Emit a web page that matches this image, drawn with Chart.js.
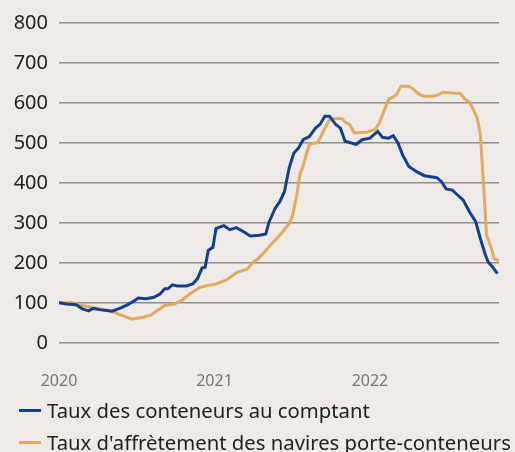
<!DOCTYPE html>
<html>
<head>
<meta charset="utf-8">
<script src="https://cdn.jsdelivr.net/npm/chart.js@4"></script>
<style>
  body { margin: 0; background: #eeeae7; }
  #wrap { position: relative; width: 515px; height: 452px; overflow: hidden; }
  #diagram { position: absolute; left: 0; top: 0; }
  #legend { position: absolute; left: 19px; top: 394px; font-family: "Noto Sans", sans-serif; font-size: 20.3px; color: #222; white-space: nowrap; }
  #legend .item { height: 32px; line-height: 32px; display: flex; align-items: center; }
  #legend .mark { display: inline-block; width: 22px; height: 3px; margin-right: 6px; }
</style>
</head>
<body>
<div id="wrap">
  <canvas id="diagram" width="515" height="417"></canvas>
  <div id="legend"></div>
</div>
<script>
// dates as decimal years, values indexed (Jan 2020 = 100)
const spotDates = [2020.00, 2020.05, 2020.11, 2020.15, 2020.19, 2020.22, 2020.26, 2020.34, 2020.39, 2020.44,
    2020.48, 2020.51, 2020.56, 2020.61, 2020.65, 2020.68, 2020.70, 2020.73, 2020.76, 2020.82,
    2020.86, 2020.89, 2020.92, 2020.94, 2020.96, 2020.99, 2021.01, 2021.06, 2021.10, 2021.14,
    2021.19, 2021.23, 2021.29, 2021.33, 2021.35, 2021.39, 2021.42, 2021.45, 2021.48, 2021.51,
    2021.54, 2021.57, 2021.61, 2021.65, 2021.68, 2021.71, 2021.74, 2021.78, 2021.81, 2021.84,
    2021.88, 2021.91, 2021.95, 2022.00, 2022.05, 2022.08, 2022.12, 2022.15, 2022.18, 2022.21,
    2022.25, 2022.30, 2022.35, 2022.43, 2022.46, 2022.49, 2022.53, 2022.56, 2022.60, 2022.64,
    2022.68, 2022.71, 2022.74, 2022.76, 2022.79, 2022.82];
const spotRates = [100, 97, 95, 85, 80, 86, 83, 79, 86, 95,
    104, 112, 110, 114, 122, 135, 135, 145, 142, 142,
    147, 160, 187, 189, 231, 239, 286, 293, 283, 288,
    277, 267, 269, 272, 301, 336, 353, 378, 437, 474,
    487, 508, 516, 537, 547, 567, 567, 546, 537, 504,
    500, 496, 508, 512, 529, 514, 512, 518, 500, 470,
    441, 428, 418, 413, 403, 385, 382, 371, 357, 328,
    303, 261, 223, 202, 189, 173];

const charterDates = [2020.00, 2020.09, 2020.18, 2020.26, 2020.33, 2020.40, 2020.47, 2020.54, 2020.59, 2020.63,
    2020.68, 2020.74, 2020.79, 2020.84, 2020.91, 2020.95, 2021.01, 2021.08, 2021.14, 2021.21,
    2021.25, 2021.28, 2021.33, 2021.36, 2021.42, 2021.48, 2021.50, 2021.53, 2021.55, 2021.57,
    2021.59, 2021.61, 2021.66, 2021.68, 2021.71, 2021.74, 2021.78, 2021.82, 2021.84, 2021.87,
    2021.90, 2021.98, 2022.03, 2022.06, 2022.09, 2022.12, 2022.15, 2022.17, 2022.20, 2022.25,
    2022.28, 2022.32, 2022.35, 2022.41, 2022.44, 2022.47, 2022.53, 2022.58, 2022.61, 2022.64,
    2022.66, 2022.69, 2022.71, 2022.73, 2022.75, 2022.78, 2022.80, 2022.83];
const charterRates = [100, 100, 91, 85, 80, 69, 59, 64, 69, 80,
    93, 97, 106, 122, 139, 143, 147, 158, 175, 184,
    202, 210, 231, 244, 269, 298, 315, 370, 424, 441,
    470, 497, 500, 512, 537, 558, 561, 561, 552, 546,
    525, 527, 533, 550, 579, 609, 615, 620, 642, 642,
    634, 621, 617, 617, 621, 627, 625, 624, 610, 602,
    588, 562, 521, 400, 269, 238, 210, 206];

const yearTicks = [2020, 2021, 2022];
const seriesNames = ['Taux des conteneurs au comptant', "Taux d'affrètement des navires porte-conteneurs"];
const seriesColors = ['#173f8d', '#dfab5d'];

window.onload = init;

function init() {
    const chart = createChart();
    buildLegend(chart);
}

function toPoints(xs, ys) {
    return xs.map((x, i) => ({ x: x, y: ys[i] }));
}

// legend drawn as html so the long label is not cut
function buildLegend(chart) {
    const box = document.getElementById('legend');
    chart.data.datasets.forEach(ds => {
        const row = document.createElement('div');
        row.className = 'item';
        const mark = document.createElement('span');
        mark.className = 'mark';
        mark.style.background = ds.borderColor;
        row.appendChild(mark);
        row.appendChild(document.createTextNode(ds.label));
        box.appendChild(row);
    });
}

function createChart() {
    const ctx = document.getElementById('diagram').getContext('2d');
    Chart.defaults.font.family = '"Noto Sans", sans-serif';

    return new Chart(ctx, {
        type: 'line',
        data: {
            datasets: [
                {
                    label: seriesNames[0],
                    data: toPoints(spotDates, spotRates),
                    borderColor: seriesColors[0],
                    borderWidth: 3,
                    pointRadius: 0,
                    tension: 0
                },
                {
                    label: seriesNames[1],
                    data: toPoints(charterDates, charterRates),
                    borderColor: seriesColors[1],
                    borderWidth: 3,
                    pointRadius: 0,
                    tension: 0
                }
            ]
        },
        options: {
            responsive: false,
            animation: false,
            layout: { padding: { left: 7, right: 16, top: 12, bottom: 5 } },
            plugins: {
                tooltip: { enabled: false },
                legend: { display: false }
            },
            scales: {
                x: {
                    type: 'linear',
                    min: 2020,
                    max: 2022.83,
                    grid: { display: false },
                    border: { display: false },
                    afterBuildTicks: axis => { axis.ticks = yearTicks.map(v => ({ value: v })); },
                    ticks: {
                        color: '#777',
                        font: { size: 16 },
                        padding: 21,
                        callback: v => String(v)
                    }
                },
                y: {
                    min: 0,
                    max: 800,
                    afterFit: axis => { axis.width = 52; },
                    border: { display: false },
                    grid: { color: '#8e8e8e', lineWidth: 1.5, drawTicks: false },
                    ticks: {
                        stepSize: 100,
                        color: '#222',
                        padding: 11,
                        font: { size: 20 }
                    }
                }
            }
        }
    });
}
</script>
</body>
</html>
